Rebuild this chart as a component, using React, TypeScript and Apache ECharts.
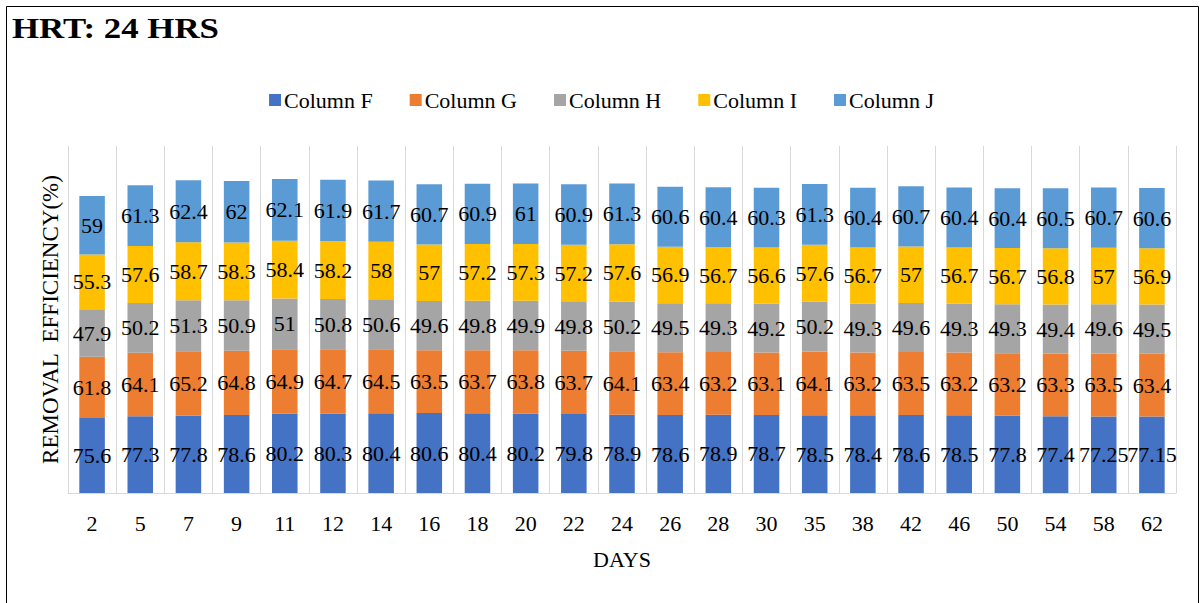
import React, { useEffect, useRef } from "react";
import * as echarts from "echarts";

const days = ["2", "5", "7", "9", "11", "12", "14", "16", "18", "20", "22", "24", "26", "28", "30", "35", "38", "42", "46", "50", "54", "58", "62"];
const columnF = [75.6, 77.3, 77.8, 78.6, 80.2, 80.3, 80.4, 80.6, 80.4, 80.2, 79.8, 78.9, 78.6, 78.9, 78.7, 78.5, 78.4, 78.6, 78.5, 77.8, 77.4, 77.25, 77.15];
const columnG = [61.8, 64.1, 65.2, 64.8, 64.9, 64.7, 64.5, 63.5, 63.7, 63.8, 63.7, 64.1, 63.4, 63.2, 63.1, 64.1, 63.2, 63.5, 63.2, 63.2, 63.3, 63.5, 63.4];
const columnH = [47.9, 50.2, 51.3, 50.9, 51, 50.8, 50.6, 49.6, 49.8, 49.9, 49.8, 50.2, 49.5, 49.3, 49.2, 50.2, 49.3, 49.6, 49.3, 49.3, 49.4, 49.6, 49.5];
const columnI = [55.3, 57.6, 58.7, 58.3, 58.4, 58.2, 58, 57, 57.2, 57.3, 57.2, 57.6, 56.9, 56.7, 56.6, 57.6, 56.7, 57, 56.7, 56.7, 56.8, 57, 56.9];
const columnJ = [59, 61.3, 62.4, 62, 62.1, 61.9, 61.7, 60.7, 60.9, 61, 60.9, 61.3, 60.6, 60.4, 60.3, 61.3, 60.4, 60.7, 60.4, 60.4, 60.5, 60.7, 60.6];

const seriesNames = ["Column F", "Column G", "Column H", "Column I", "Column J"];
const seriesColors = ["#4472C4", "#ED7D31", "#A5A5A5", "#FFC000", "#5B9BD5"];
const seriesData = [columnF, columnG, columnH, columnI, columnJ];

const FONT = "'Liberation Serif', 'Times New Roman', serif";

export default function App() {
  const ref = useRef<HTMLDivElement>(null);
  useEffect(() => {
    if (!ref.current) return;
    const chart = echarts.init(ref.current, null, { renderer: "svg" });
    chart.setOption({
      animation: false,
      backgroundColor: "#ffffff",
      textStyle: { fontFamily: FONT },
      graphic: [
        {
          type: "rect",
          shape: { x: 6.5, y: 6.5, width: 1192, height: 620 },
          style: { fill: "none", stroke: "#000", lineWidth: 1 },
          silent: true,
        },
        {
          type: "text",
          x: 12,
          y: 28,
          scaleX: 1.2,
          style: {
            text: "HRT: 24 HRS",
            fontFamily: FONT,
            fontSize: 29,
            fontWeight: "bold",
            fill: "#000",
            textAlign: "left",
            textVerticalAlign: "middle",
          },
          silent: true,
        },
      ],
      legend: {
        top: 84,
        left: "center",
        itemWidth: 12,
        itemHeight: 12,
        itemGap: 37,
        icon: "rect",
        textStyle: { fontFamily: FONT, fontSize: 22, color: "#000", padding: [0, 0, 0, -2] },
        data: seriesNames,
      },
      grid: { left: 68, right: 27, top: 146, bottom: 110 },
      xAxis: {
        type: "category",
        data: days,
        name: "DAYS",
        nameLocation: "middle",
        nameGap: 55,
        nameTextStyle: { fontFamily: FONT, fontSize: 22, color: "#000" },
        axisLine: { lineStyle: { color: "#d9d9d9" } },
        axisTick: { show: false },
        axisLabel: { fontFamily: FONT, fontSize: 22, color: "#000", margin: 19 },
        splitLine: { show: true, lineStyle: { color: "#d9d9d9" } },
      },
      yAxis: {
        type: "value",
        min: 0,
        max: 350,
        name: "REMOVAL  EFFICIENCY(%)",
        nameLocation: "middle",
        nameRotate: 90,
        nameGap: 6,
        nameTextStyle: { fontFamily: FONT, fontSize: 23, color: "#000" },
        axisLine: { show: false },
        axisTick: { show: false },
        axisLabel: { show: false },
        splitLine: { show: false },
      },
      series: seriesNames.map((name, i) => ({
        name,
        type: "bar",
        stack: "total",
        barWidth: "53%",
        data: seriesData[i],
        itemStyle: { color: seriesColors[i] },
        label: {
          show: true,
          position: "inside",
          fontFamily: FONT,
          fontSize: 22,
          color: "#000",
          textBorderWidth: 0,
        },
      })),
    });
    return () => chart.dispose();
  }, []);
  return (
    <div
      ref={ref}
      style={{ position: "absolute", left: 0, top: 0, width: 1203, height: 603 }}
    />
  );
}
